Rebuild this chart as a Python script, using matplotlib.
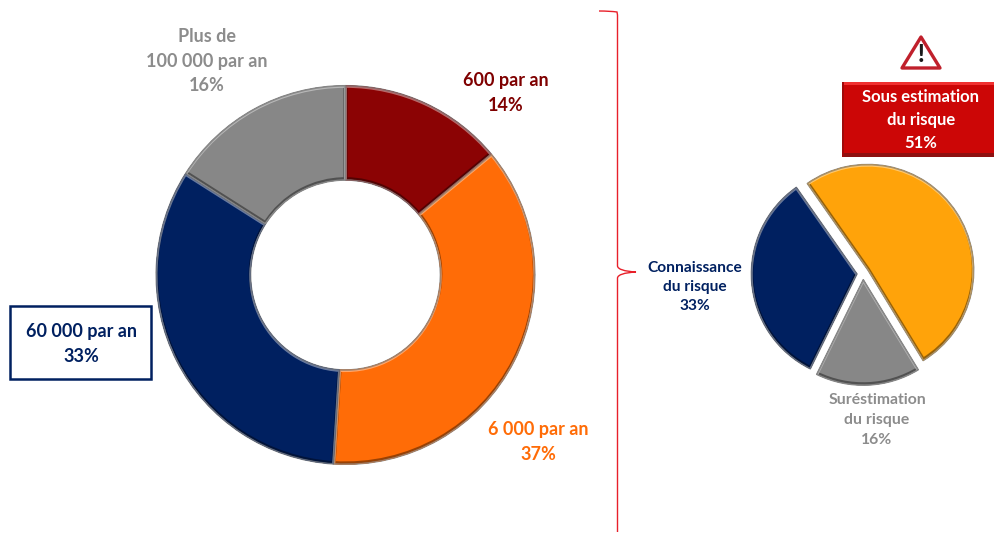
from __future__ import annotations

"""Risk perception: donut of yearly risk levels and exploded pie of estimates."""

import matplotlib

matplotlib.use("Agg")

import matplotlib.pyplot as plt
from matplotlib.patches import PathPatch, Polygon, Rectangle
from matplotlib.path import Path as MplPath
from matplotlib.transforms import ScaledTranslation

plt.rcParams["font.family"] = ["Lato", "DejaVu Sans"]

W, H = 994, 533

# data
donut_labels = ["600 par an", "6 000 par an", "60 000 par an", "Plus de\n100 000 par an"]
donut_values = [14, 37, 33, 16]
donut_colors = ["#8B0304", "#FF6C07", "#002060", "#878787"]

pie_labels = ["Sous estimation\ndu risque", "Suréstimation\ndu risque", "Connaissance\ndu risque"]
pie_values = [51, 16, 33]
pie_colors = ["#FFA30A", "#878787", "#002060"]
pie_explode = [0.055, 0.055, 0.055]

NAVY = "#002060"


def pie_axes(fig, cx, cy, radius, pad=14):
    """Square axes centred on pixel (cx, cy), one data unit = radius pixels."""
    half = radius + pad
    ax = fig.add_axes([(cx - half) / W, 1 - (cy + half) / H, 2 * half / W, 2 * half / H])
    ax.set_axis_off()
    return ax, half / radius


def bevel(ax, wedges, colors):
    """Fake the office bevel: grey rim, dark lower edges, light upper edges."""
    shift = ax.figure.dpi_scale_trans
    for wedge, color in zip(wedges, colors):
        rgb = matplotlib.colors.to_rgb(color)
        dark = tuple(c * 0.6 for c in rgb)
        light = tuple(min(1, c * 0.55 + 0.45) for c in rgb)
        path = wedge.get_path()
        trans = wedge.get_transform()
        layers = [
            (dark, 3.0, 1.0 / 100, 1.0),
            (light, 2.2, -0.8 / 100, 0.9),
            ("#6f6f6f", 1.6, 0.0, 0.6),
        ]
        for edge, lw, dy, alpha in layers:
            stroke = PathPatch(path, fc="none", ec=edge, lw=lw, alpha=alpha, zorder=2.5,
                               transform=trans + ScaledTranslation(0, dy, shift))
            ax.add_patch(stroke)
            stroke.set_clip_path(wedge)


fig = plt.figure(figsize=(W / 100, H / 100), dpi=100)

# donut
ax_d, lim = pie_axes(fig, 345.5, 275, 189.5)
wedges, _ = ax_d.pie(donut_values, colors=donut_colors, startangle=90, counterclock=False,
                     radius=1, wedgeprops=dict(width=0.5, edgecolor="#8a8a8a", linewidth=0.8))
ax_d.set_xlim(-lim, lim)
ax_d.set_ylim(-lim, lim)
bevel(ax_d, wedges, donut_colors)

# exploded pie
ax_p, lim = pie_axes(fig, 863, 273.5, 106)
wedges, _ = ax_p.pie(pie_values, colors=pie_colors, startangle=125, counterclock=False,
                     radius=1, explode=pie_explode, wedgeprops=dict(edgecolor="#8a8a8a", linewidth=0.8))
ax_p.set_xlim(-lim, lim)
ax_p.set_ylim(-lim, lim)
bevel(ax_p, wedges, pie_colors)

# overlay in pixel coordinates for labels, boxes and bracket
ov = fig.add_axes([0, 0, 1, 1], zorder=5)
ov.set_xlim(0, W)
ov.set_ylim(H, 0)
ov.set_axis_off()
ov.patch.set_alpha(0)


def label(x, y, s, color, size=13, spacing=1.55):
    ov.text(x, y, s, color=color, fontsize=size, fontweight="bold", ha="center", va="center",
            linespacing=spacing)


label(207, 61, f"{donut_labels[3]}\n{donut_values[3]}%", "#8C8C8C")
label(506, 93, f"{donut_labels[0]}\n{donut_values[0]}%", "#7F0000")
label(538, 442, f"{donut_labels[1]}\n{donut_values[1]}%", "#FF6C07")
label(81, 344, f"{donut_labels[2]}\n{donut_values[2]}%", NAVY)
ov.add_patch(Rectangle((9.5, 305.5), 141, 73, fc="none", ec=NAVY, lw=1.8))

# red callout box
ov.add_patch(Rectangle((842, 82), 152, 75, fc="#CC0606", ec="none"))
ov.add_patch(Rectangle((842, 82), 152, 3, fc="#F03030", ec="none"))
ov.add_patch(Rectangle((842, 153), 152, 4, fc="#8E1010", ec="none"))
ov.add_patch(Rectangle((842, 82), 2, 75, fc="#A00A0A", ec="none"))
label(921, 120, f"{pie_labels[0]}\n{pie_values[0]}%", "white", size=12, spacing=1.5)

label(695, 287, f"{pie_labels[2]}\n{pie_values[2]}%", NAVY, size=11.2, spacing=1.5)
label(877, 420, f"{pie_labels[1]}\n{pie_values[1]}%", "#8C8C8C", size=11.3, spacing=1.5)

# warning sign
ov.add_patch(Polygon([(921, 37), (902, 68), (940, 68)], closed=True, fc="white", ec="#C0202C",
                     lw=2.4, joinstyle="round"))
ov.text(921, 54, "!", color="#1a1a1a", fontsize=17, fontweight="black", ha="center", va="center")

# bracket
verts = [(599, 11), (610, 11), (617, 12), (617.5, 15), (617.5, 266), (618, 271), (636, 272),
         (618, 273), (617.5, 278), (617.5, 532)]
codes = [MplPath.MOVETO, MplPath.CURVE3, MplPath.CURVE3, MplPath.LINETO, MplPath.LINETO,
         MplPath.CURVE3, MplPath.CURVE3, MplPath.CURVE3, MplPath.CURVE3, MplPath.LINETO]
ov.add_patch(PathPatch(MplPath(verts, codes), fc="none", ec="#E8202A", lw=1.0))

fig.savefig("out.png", dpi=100)
